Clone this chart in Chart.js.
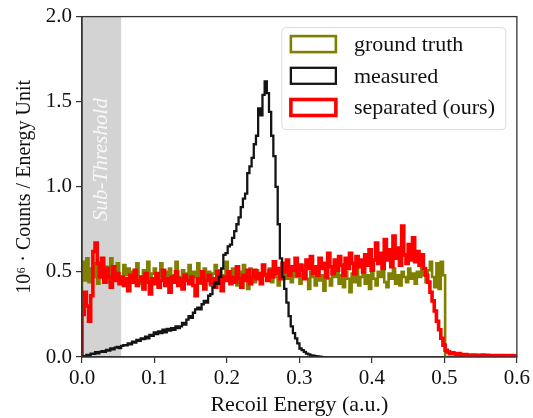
<!DOCTYPE html>
<html>
<head>
<meta charset="utf-8">
<script src="https://cdn.jsdelivr.net/npm/chart.js@4/dist/chart.umd.min.js"></script>
<style>
  html, body { margin: 0; padding: 0; background: #fff; }
</style>
</head>
<body>
<canvas id="chart" width="533" height="418"></canvas>
<script>
// histogram bins: 0.003 wide, starting at 0
const BIN_WIDTH = 0.003;
const THRESHOLD = 0.054;

const xTicks = [0.0, 0.1, 0.2, 0.3, 0.4, 0.5, 0.6];
const yTicks = [0.0, 0.5, 1.0, 1.5, 2.0];

const groundTruth = [
  0.56, 0.45, 0.58, 0.44, 0.52, 0.47, 0.55, 0.43, 0.50, 0.57,
  0.46, 0.53, 0.44, 0.58, 0.49, 0.45, 0.55, 0.47, 0.43, 0.54,
  0.48, 0.52, 0.44, 0.50, 0.46, 0.55, 0.47, 0.43, 0.51, 0.48,
  0.56, 0.45, 0.49, 0.52, 0.43, 0.47, 0.55, 0.46, 0.50, 0.42,
  0.52, 0.48, 0.45, 0.56, 0.47, 0.44, 0.51, 0.49, 0.45, 0.54,
  0.45, 0.50, 0.47, 0.55, 0.43, 0.48, 0.52, 0.46, 0.50, 0.42,
  0.49, 0.54, 0.46, 0.51, 0.43, 0.48, 0.56, 0.47, 0.45, 0.52,
  0.49, 0.42, 0.50, 0.47, 0.54, 0.46, 0.40, 0.52, 0.48, 0.44,
  0.51, 0.47, 0.43, 0.54, 0.49, 0.46, 0.52, 0.44, 0.50, 0.47,
  0.42, 0.51, 0.48, 0.55, 0.46, 0.49, 0.44, 0.52, 0.47, 0.50,
  0.43, 0.49, 0.54, 0.46, 0.40, 0.50, 0.47, 0.42, 0.52, 0.45,
  0.48, 0.39, 0.51, 0.46, 0.42, 0.50, 0.47, 0.54, 0.43, 0.48,
  0.41, 0.50, 0.46, 0.38, 0.49, 0.44, 0.52, 0.42, 0.47, 0.50,
  0.43, 0.48, 0.40, 0.53, 0.46, 0.42, 0.50, 0.47, 0.54, 0.44,
  0.41, 0.49, 0.46, 0.52, 0.43, 0.48, 0.42, 0.50, 0.47, 0.44,
  0.52, 0.46, 0.49, 0.43, 0.50, 0.47, 0.54, 0.48, 0.44, 0.51,
  0.56, 0.47, 0.41, 0.55, 0.40, 0.56, 0.48
];

const measured = [
  0.000, 0.005, 0.012, 0.010, 0.020, 0.018, 0.028, 0.022, 0.030, 0.035,
  0.030, 0.042, 0.038, 0.050, 0.045, 0.055, 0.060, 0.052, 0.065, 0.070,
  0.068, 0.080, 0.075, 0.090, 0.085, 0.100, 0.095, 0.110, 0.105, 0.120,
  0.110, 0.130, 0.125, 0.145, 0.135, 0.150, 0.140, 0.160, 0.145, 0.165,
  0.155, 0.170, 0.160, 0.180, 0.170, 0.180, 0.200, 0.190, 0.220, 0.240,
  0.230, 0.260, 0.280, 0.290, 0.280, 0.310, 0.330, 0.320, 0.360, 0.370,
  0.410, 0.440, 0.430, 0.470, 0.520, 0.600, 0.610, 0.650, 0.660, 0.700,
  0.740, 0.780, 0.820, 0.880, 0.930, 0.960, 1.080, 1.120, 1.170, 1.250,
  1.300, 1.460, 1.420, 1.540, 1.620, 1.550, 1.440, 1.300, 1.180, 1.000,
  0.780, 0.580, 0.470, 0.400, 0.320, 0.240, 0.180, 0.140, 0.110, 0.080,
  0.050, 0.040, 0.030, 0.020, 0.015, 0.010, 0.008, 0.005, 0.003, 0.002,
  0.000
];

const separated = [
  0.25, 0.38, 0.30, 0.21, 0.36, 0.62, 0.67, 0.55, 0.47, 0.58,
  0.44, 0.52, 0.47, 0.41, 0.53, 0.45, 0.49, 0.43, 0.47, 0.42,
  0.46, 0.39, 0.48, 0.44, 0.51, 0.42, 0.45, 0.47, 0.40, 0.49,
  0.44, 0.37, 0.46, 0.43, 0.49, 0.41, 0.45, 0.51, 0.42, 0.46,
  0.38, 0.47, 0.44, 0.50, 0.42, 0.46, 0.40, 0.48, 0.45, 0.43,
  0.47, 0.42, 0.36, 0.46, 0.44, 0.50, 0.40, 0.45, 0.48, 0.43,
  0.46, 0.41, 0.50, 0.44, 0.39, 0.47, 0.45, 0.50, 0.43, 0.47,
  0.44, 0.53, 0.46, 0.41, 0.48, 0.45, 0.51, 0.43, 0.47, 0.51,
  0.46, 0.49, 0.43, 0.54, 0.48, 0.45, 0.51, 0.47, 0.56, 0.49,
  0.52, 0.46, 0.55, 0.50, 0.57, 0.48, 0.53, 0.51, 0.58, 0.48,
  0.54, 0.51, 0.46, 0.57, 0.52, 0.59, 0.49, 0.53, 0.48, 0.58,
  0.52, 0.55, 0.47, 0.61, 0.53, 0.49, 0.57, 0.51, 0.59, 0.54,
  0.48, 0.58, 0.52, 0.61, 0.55, 0.49, 0.59, 0.53, 0.57, 0.50,
  0.60, 0.54, 0.63, 0.51, 0.57, 0.67, 0.55, 0.61, 0.52, 0.69,
  0.57, 0.63, 0.53, 0.71, 0.58, 0.64, 0.54, 0.77, 0.60, 0.55,
  0.66, 0.57, 0.70, 0.56, 0.62, 0.54, 0.60, 0.52, 0.48, 0.44,
  0.38, 0.33, 0.27, 0.21, 0.16, 0.11, 0.07, 0.04, 0.03, 0.02,
  0.025, 0.02, 0.015, 0.02, 0.015, 0.012, 0.015, 0.01, 0.012, 0.01,
  0.012, 0.008, 0.01, 0.009, 0.011, 0.008, 0.01, 0.007, 0.009, 0.008,
  0.008, 0.007, 0.009, 0.006, 0.008, 0.007, 0.006, 0.008, 0.006, 0.007
];

const SERIF = '"Liberation Serif", "DejaVu Serif", serif';
const TEXT = '#111';

// step outline like matplotlib histtype='step': up from 0 at the left, down to 0 at the right
function stepPoints(values) {
  const pts = [{ x: 0, y: 0 }];
  values.forEach((v, i) => pts.push({ x: i * BIN_WIDTH, y: v }));
  const end = values.length * BIN_WIDTH;
  pts.push({ x: end, y: values[values.length - 1] });
  pts.push({ x: end, y: 0 });
  return pts;
}

// gray sub-threshold band under everything
const thresholdBand = {
  id: 'thresholdBand',
  beforeDraw(chart) {
    const { ctx, chartArea, scales } = chart;
    const x0 = scales.x.getPixelForValue(0);
    const x1 = scales.x.getPixelForValue(THRESHOLD);
    ctx.save();
    ctx.fillStyle = '#d3d3d3';
    ctx.fillRect(x0, chartArea.top, x1 - x0, chartArea.bottom - chartArea.top);
    ctx.translate((x0 + x1) / 2, scales.y.getPixelForValue(1.16));
    ctx.rotate(-Math.PI / 2);
    ctx.font = 'italic 21px ' + SERIF;
    ctx.fillStyle = '#f7f7f7';
    ctx.textAlign = 'center';
    ctx.textBaseline = 'middle';
    ctx.fillText('Sub-Threshold', 0, 0);
    ctx.restore();
  }
};

// top/right spines + legend box
const frameAndLegend = {
  id: 'frameAndLegend',
  afterDatasetsDraw(chart) {
    const { ctx, chartArea } = chart;
    ctx.save();
    ctx.strokeStyle = '#333';
    ctx.lineWidth = 1.3;
    ctx.strokeRect(chartArea.left, chartArea.top, chartArea.right - chartArea.left, chartArea.bottom - chartArea.top);

    const bx = chartArea.right - 235, by = chartArea.top + 11, bw = 224, bh = 102;
    ctx.beginPath();
    ctx.roundRect(bx, by, bw, bh, 4);
    ctx.fillStyle = 'rgba(255,255,255,0.85)';
    ctx.fill();
    ctx.strokeStyle = '#dcdcdc';
    ctx.lineWidth = 1;
    ctx.stroke();

    ctx.font = '22px ' + SERIF;
    ctx.textBaseline = 'middle';
    ctx.textAlign = 'left';
    chart.data.datasets.forEach((ds, i) => {
      const cy = by + 16.5 + i * 31.7;
      ctx.strokeStyle = ds.borderColor;
      ctx.lineWidth = ds.borderWidth;
      ctx.strokeRect(bx + 9, cy - 8, 45, 16);
      ctx.fillStyle = TEXT;
      ctx.fillText(ds.label, bx + 72, cy + 1);
    });
    ctx.restore();
  }
};

const tickFont = { family: SERIF, size: 21 };
const axisGrid = { drawOnChartArea: false, drawTicks: true, tickLength: 6, color: '#333', lineWidth: 1.2 };
const axisBorder = { display: true, color: '#333', width: 1.3 };

new Chart(document.getElementById('chart'), {
  type: 'line',
  data: {
    datasets: [
      { label: 'ground truth', data: stepPoints(groundTruth), borderColor: '#808000', borderWidth: 2.6, order: 3 },
      { label: 'measured', data: stepPoints(measured), borderColor: '#141414', borderWidth: 2.3, order: 1 },
      { label: 'separated (ours)', data: stepPoints(separated), borderColor: '#ff0000', borderWidth: 3.6, order: 2 }
    ]
  },
  options: {
    responsive: false,
    animation: false,
    elements: {
      point: { radius: 0 },
      line: { stepped: 'before', tension: 0, fill: false, borderJoinStyle: 'miter' }
    },
    layout: { padding: { left: 0, right: 15, top: 14, bottom: 0 } },
    plugins: { legend: { display: false }, tooltip: { enabled: false } },
    scales: {
      x: {
        type: 'linear', min: 0, max: 0.6,
        afterBuildTicks: s => { s.ticks = xTicks.map(v => ({ value: v })); },
        afterFit: s => { s.height = 61; },
        ticks: { font: tickFont, color: TEXT, padding: 3, maxRotation: 0, callback: v => v.toFixed(1) },
        grid: axisGrid, border: axisBorder,
        title: { display: true, text: 'Recoil Energy (a.u.)', font: { family: SERIF, size: 22 }, color: TEXT, padding: 0 }
      },
      y: {
        type: 'linear', min: 0, max: 2,
        afterBuildTicks: s => { s.ticks = yTicks.map(v => ({ value: v })); },
        afterFit: s => { s.width = 82; },
        ticks: { font: tickFont, color: TEXT, padding: 4, callback: v => v.toFixed(1) },
        grid: axisGrid, border: axisBorder,
        title: { display: true, text: '10⁶ · Counts / Energy Unit', font: { family: SERIF, size: 20 }, color: TEXT, padding: { top: 13, bottom: 0 } }
      }
    }
  },
  plugins: [thresholdBand, frameAndLegend]
});
</script>
</body>
</html>
